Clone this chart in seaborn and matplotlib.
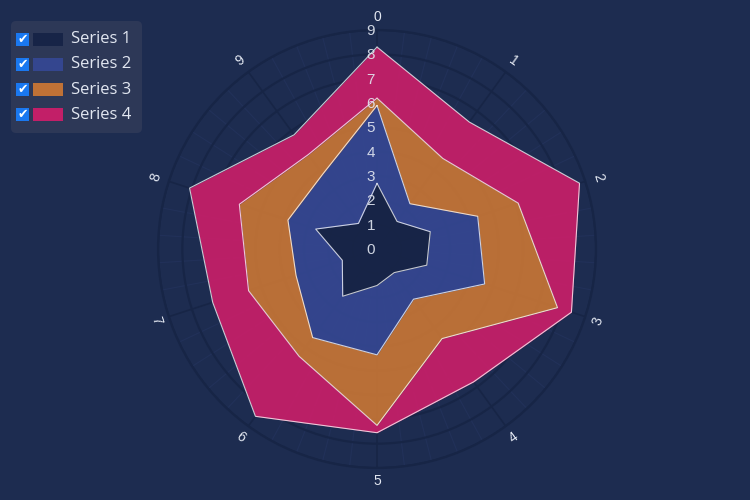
import numpy as np
import matplotlib
matplotlib.use("Agg")
import matplotlib.pyplot as plt
import matplotlib.transforms as mtransforms
from matplotlib.patches import FancyBboxPatch, Rectangle
import seaborn as sns

# Categories around the radar and the stacked series values
categories = ["0", "1", "2", "3", "4", "5", "6", "7", "8", "9"]
series_names = ["Series 1", "Series 2", "Series 3", "Series 4"]
series_1 = [2.7, 1.4, 2.3, 2.15, 1.2, 1.5, 2.4, 1.5, 2.65, 1.3]
series_2 = [3.2, 0.9, 2.05, 2.5, 1.35, 2.85, 2.1, 2.0, 1.2, 2.5]
series_3 = [0.3, 2.3, 1.75, 3.15, 2.0, 2.9, 0.95, 2.05, 2.1, 1.0]
series_4 = [2.1, 1.85, 2.65, 0.6, 2.2, 0.3, 3.05, 1.55, 2.15, 1.0]
radial_ticks = [0, 1, 2, 3, 4, 5, 6, 7, 8, 9]

bg = "#1d2c50"
grid_dark = "#172546"
text_col = "#e2e7f1"
colors = ["#172447", "#34468f", "#c07236", "#c21f68"]

sns.set_theme(style="dark", rc={
    "figure.facecolor": bg,
    "axes.facecolor": bg,
    "savefig.facecolor": bg,
    "axes.axisbelow": True,
})
plt.rcParams["font.family"] = ["Liberation Sans", "DejaVu Sans"]

fig = plt.figure(figsize=(7.5, 5), dpi=100)
ax = fig.add_axes([0.2107, 0.064, 0.584, 0.876], projection="polar")
ax.set_facecolor(bg)
ax.set_theta_zero_location("N")
ax.set_theta_direction(-1)

n = len(categories)
angles = np.linspace(0, 2 * np.pi, n, endpoint=False)
theta = np.append(angles, angles[0] + 2 * np.pi)

# stacked bands
lower = np.zeros(n)
for vals, col in zip([series_1, series_2, series_3, series_4], colors):
    upper = lower + np.array(vals)
    lo = np.append(lower, lower[0])
    up = np.append(upper, upper[0])
    ax.fill_between(theta, lo, up, color=col, alpha=0.96, linewidth=0, zorder=2)
    ax.plot(theta, up, color="white", alpha=0.75, linewidth=0.8, zorder=3)
    lower = upper

ax.set_ylim(0, 9)
ax.set_yticks(radial_ticks)
ax.set_yticklabels([])
ax.set_xticks(angles)
ax.set_xticklabels([])
ax.set_xticks(np.linspace(0, 2 * np.pi, n * 5, endpoint=False), minor=True)
ax.grid(which="major", axis="y", color=grid_dark, linewidth=1.6)
ax.grid(which="major", axis="x", color=grid_dark, linewidth=1.2)
ax.grid(which="minor", axis="x", color="#2a3a6a", linewidth=0.8, alpha=0.35)
ax.spines["polar"].set_color(grid_dark)
ax.spines["polar"].set_linewidth(1.6)
ax.tick_params(axis="both", length=0)

# radial labels along the top axis, slightly to the left
offset = mtransforms.offset_copy(ax.transData, fig=fig, x=-2, y=-1, units="dots")
for r in radial_ticks:
    ax.text(0, r, str(r), transform=offset, ha="right", va="center",
            fontsize=11, color=text_col, alpha=0.9, zorder=5)

# angular labels, rotated along the circle
for ang, lab in zip(angles, categories):
    rot = -np.degrees(ang)
    while rot <= -90:
        rot += 180
    ax.text(ang, 9.55, lab, ha="center", va="center", rotation=rot,
            rotation_mode="anchor", fontsize=10, color=text_col, clip_on=False)

# legend with checkboxes (pixel coordinates)
ident = mtransforms.IdentityTransform()
H = 500
box = FancyBboxPatch((11, H - 133), 131, 112, boxstyle="round,pad=0,rounding_size=5",
                     facecolor="#2e3958", edgecolor="none", alpha=0.95, transform=ident)
fig.add_artist(box)
for i, (name, col) in enumerate(zip(series_names, colors)):
    yc = H - (39 + i * 25.3)
    fig.add_artist(Rectangle((16, yc - 6.5), 13, 13, facecolor="#1a78f0",
                             edgecolor="none", transform=ident))
    fig.text(22.5, yc, "\u2714", transform=ident, ha="center", va="center",
             fontsize=9, color="white", family="DejaVu Sans")
    fig.add_artist(Rectangle((33, yc - 6.5), 30, 13, facecolor=col,
                             edgecolor="none", transform=ident))
    fig.text(71, yc, name, transform=ident, ha="left", va="center",
             fontsize=12, color=text_col, family=["Open Sans", "DejaVu Sans"])

fig.savefig("out.png", dpi=100)
